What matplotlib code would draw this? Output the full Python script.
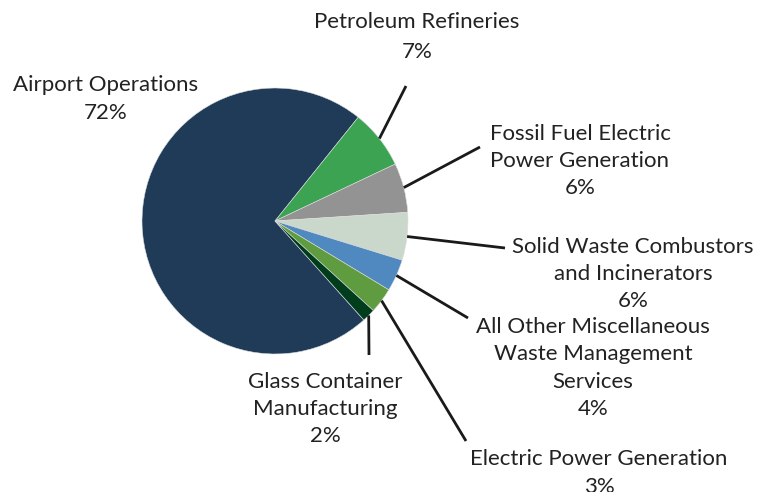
import numpy as np
import matplotlib.pyplot as plt

# dados do gráfico
labels = ['Airport Operations', 'Petroleum Refineries', 'Fossil Fuel Electric\nPower Generation',
          'Solid Waste Combustors\nand Incinerators', 'All Other Miscellaneous\nWaste Management\nServices',
          'Electric Power Generation', 'Glass Container\nManufacturing']
values = [72.4, 7.2, 6.0, 5.8, 3.9, 3.1, 1.6]
colors = ['#1f3b58', '#3ba352', '#939393', '#cad8cc', '#4f89bf', '#5f9b3f', '#003d1c']

# posição dos rótulos (pixels, y de cima para baixo) e fim das linhas
label_pos = [(106, 99), (417, 37), (580, 161), (633, 274), (593, 368), (599, 473), (325, 409)]
line_end = [None, (406, 86), (480, 147), (505, 248), (468, 318), (466, 441), (369, 355)]
spacing = [1.45, 1.65, 1.45, 1.45, 1.45, 1.45, 1.45]

W, H = 757, 492
cx, cy, r = 275, H - 221, 133
start = 311.9

fig = plt.figure(figsize=(W / 100, H / 100), dpi=100)
ax = fig.add_axes([0, 0, 1, 1])

wedges, _ = ax.pie(values, colors=colors, startangle=start, counterclock=False,
                   center=(cx, cy), radius=r, frame=True,
                   wedgeprops=dict(edgecolor='#dddddd', linewidth=0.4))
ax.set_xlim(0, W)
ax.set_ylim(0, H)
ax.set_aspect('equal')
ax.axis('off')

for i, w in enumerate(wedges):
    txt = labels[i] + '\n' + f'{round(values[i])}%'
    lx, ly = label_pos[i]
    ax.text(lx, H - ly, txt, ha='center', va='center', fontsize=16, family='Lato',
            color='#222222', linespacing=spacing[i])
    if line_end[i] is not None:
        ang = np.deg2rad((w.theta1 + w.theta2) / 2)
        x0, y0 = cx + r * np.cos(ang), cy + r * np.sin(ang)
        ex, ey = line_end[i]
        ax.plot([x0, ex], [y0, H - ey], color='#1a1a1a', lw=2, solid_capstyle='butt')

plt.savefig('out.png', dpi=100)
